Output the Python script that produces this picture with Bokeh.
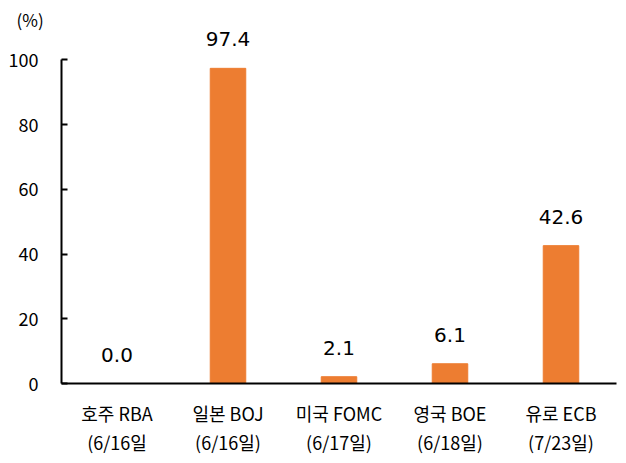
from bokeh.plotting import figure
from bokeh.models import Range1d, FixedTicker, LinearAxis, Title, ColumnDataSource
from bokeh.core.properties import value
from bokeh.embed import file_html
from bokeh.resources import INLINE

banks = ["호주 RBA", "일본 BOJ", "미국 FOMC", "영국 BOE", "유로 ECB"]
dates = ["(6/16일", "(6/16일)", "(6/17일)", "(6/18일)", "(7/23일)"]
probs = [0.0, 97.4, 2.1, 6.1, 42.6]
y_ticks = [0, 20, 40, 60, 80, 100]
unit_label = "(%)"

FONT = "Noto Sans CJK KR"
xs = [i + 0.5 for i in range(len(banks))]
src = ColumnDataSource(dict(x=xs, top=probs, lbl=[f"{v:.1f}" for v in probs]))

p = figure(width=626, height=463, output_backend="svg", toolbar_location=None,
           x_range=Range1d(0, 5), y_range=Range1d(0, 109.4),
           min_border_left=61, min_border_right=10, min_border_top=29, min_border_bottom=80)
p.outline_line_color = None
p.xgrid.visible = False
p.ygrid.visible = False
p.background_fill_color = "white"

t = Title(text=unit_label, align="left", offset=-45, standoff=-5,
          text_font=FONT, text_font_size="17px", text_font_style="normal", text_color="black")
p.add_layout(t, "above")

p.vbar(x="x", top="top", width=0.32, bottom=0, source=src, color="#ED7D31")
p.text(x="x", y="top", text="lbl", source=src, text_align="center", text_baseline="alphabetic",
       y_offset=-29, text_font=value("DejaVu Sans"), text_font_size="20px", text_color="black")

ya = p.yaxis[0]
ya.ticker = FixedTicker(ticks=y_ticks)
ya.bounds = (0, 100)
ya.axis_line_width = 2
ya.axis_line_color = "black"
ya.major_tick_in = 6
ya.major_tick_out = 0
ya.major_tick_line_width = 2
ya.minor_tick_line_color = None
ya.major_label_standoff = 23
ya.major_label_text_font = FONT
ya.major_label_text_font_size = "18px"
ya.major_label_text_color = "black"

xa = p.xaxis[0]
xa.ticker = FixedTicker(ticks=xs)
xa.major_label_overrides = {x: b for x, b in zip(xs, banks)}
xa.axis_line_width = 2
xa.axis_line_color = "black"
xa.major_tick_in = 0
xa.major_tick_out = 0
xa.minor_tick_line_color = None
xa.major_label_standoff = 16
xa.major_label_text_font = FONT
xa.major_label_text_font_size = "18px"
xa.major_label_text_color = "black"

xa2 = LinearAxis(ticker=FixedTicker(ticks=xs),
                 major_label_overrides={x: d for x, d in zip(xs, dates)})
xa2.axis_line_color = None
xa2.major_tick_in = 0
xa2.major_tick_out = 0
xa2.minor_tick_line_color = None
xa2.major_label_standoff = 0
xa2.major_label_text_font = FONT
xa2.major_label_text_font_size = "18px"
xa2.major_label_text_color = "black"
p.add_layout(xa2, "below")

open("out.html", "w").write(file_html(p, INLINE))
